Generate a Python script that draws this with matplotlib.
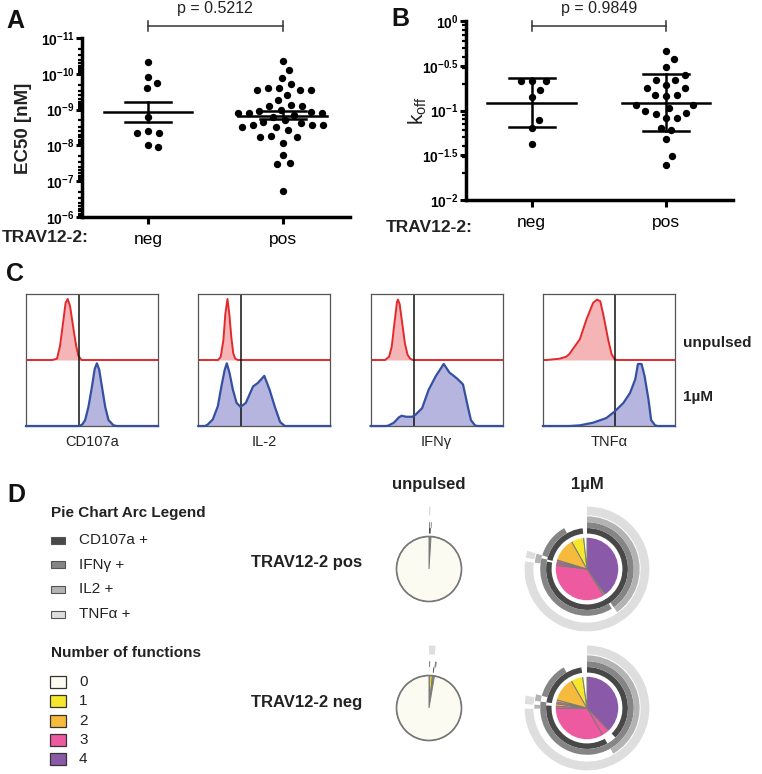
import numpy as np
import matplotlib
matplotlib.use('Agg')
import matplotlib.pyplot as plt
import matplotlib.transforms as mtransforms
from matplotlib.patches import Wedge, Circle, Rectangle
from matplotlib.ticker import LogLocator, NullFormatter

plt.rcParams['font.family'] = ['Liberation Sans', 'DejaVu Sans']
plt.rcParams['mathtext.fontset'] = 'custom'
plt.rcParams['mathtext.rm'] = 'Liberation Sans'
plt.rcParams['mathtext.bf'] = 'Liberation Sans:bold'
plt.rcParams['mathtext.it'] = 'Liberation Sans:italic'

# ---------------- data ----------------
# panel A: EC50 [nM], log10 values
ec50_neg_log = [-10.32, -9.91, -9.74, -9.60, -8.80, -8.36, -8.36, -8.40, -7.96, -8.01]
ec50_pos_log = [-10.35, -10.11, -9.88, -9.60, -9.55, -9.41, -9.55, -9.55, -9.60, -9.71,
                -9.27, -9.10, -9.13, -9.10, -8.96, -8.90, -8.90, -8.80, -8.85, -8.94,
                -8.90, -8.99, -8.62, -8.57, -8.66, -8.52, -8.43, -8.52, -8.57, -8.57,
                -8.71, -8.26, -8.24, -8.24, -8.07, -7.73, -7.52, -7.47, -6.72]
ec50_mean_log = [-8.94, -8.83]
ec50_sem_lo_log = [-9.22, -8.96]
ec50_sem_hi_log = [-8.66, -8.73]
ec50_ticks = [-11, -10, -9, -8, -7, -6]

# panel B: koff, log10 values
koff_neg_log = [-0.670, -0.670, -0.670, -0.771, -0.845, -1.106, -1.192, -1.378]
koff_pos_log = [-0.331, -0.428, -0.510, -0.603, -0.659, -0.659, -0.745, -0.752, -0.715,
                -0.827, -0.827, -0.834, -0.939, -0.939, -1.006, -0.976, -1.043, -1.032,
                -1.088, -1.088, -1.218, -1.199, -1.322, -1.508, -1.609]
koff_mean_log = [-0.912, -0.912]
koff_sd_lo_log = [-1.184, -1.229]
koff_sd_hi_log = [-0.633, -0.596]
koff_ticks = [-2, -1.5, -1, -0.5, 0]

groups = ['neg', 'pos']
p_a = 'p = 0.5212'
p_b = 'p = 0.9849'

# panel C: histograms (x = fraction of channel range, h = fraction of max)
markers = ['CD107a', 'IL-2', 'IFNγ', 'TNFα']
gates = [0.40, 0.32, 0.33, 0.545]
unp_x = [
    [0.20, 0.235, 0.258, 0.284, 0.30, 0.316, 0.334, 0.36, 0.38, 0.397, 0.42],
    [0.15, 0.17, 0.19, 0.205, 0.221, 0.235, 0.25, 0.265, 0.28, 0.30],
    [0.11, 0.14, 0.16, 0.18, 0.20, 0.207, 0.22, 0.24, 0.26, 0.28, 0.30, 0.32],
    [0.03, 0.127, 0.177, 0.20, 0.28, 0.33, 0.38, 0.41, 0.435, 0.46, 0.494, 0.52, 0.544, 0.56],
]
unp_h = [
    [0, 0.02, 0.215, 0.615, 0.865, 0.925, 0.815, 0.465, 0.215, 0.065, 0],
    [0, 0.05, 0.30, 0.70, 0.925, 0.70, 0.35, 0.10, 0.02, 0],
    [0, 0.05, 0.20, 0.55, 0.88, 0.915, 0.85, 0.55, 0.25, 0.08, 0.02, 0],
    [0, 0.02, 0.05, 0.09, 0.315, 0.615, 0.865, 0.915, 0.89, 0.665, 0.315, 0.09, 0.01, 0],
]
pul_x = [
    [0.40, 0.425, 0.448, 0.473, 0.50, 0.52, 0.537, 0.554, 0.575, 0.60, 0.625, 0.663, 0.69],
    [0.05, 0.07, 0.11, 0.148, 0.175, 0.20, 0.216, 0.237, 0.262, 0.29, 0.32, 0.36, 0.415,
     0.45, 0.50, 0.54, 0.58, 0.62, 0.656, 0.68],
    [0.12, 0.138, 0.176, 0.214, 0.235, 0.27, 0.316, 0.34, 0.39, 0.44, 0.495, 0.554, 0.597,
     0.63, 0.66, 0.70, 0.737, 0.76, 0.79, 0.81],
    [0.20, 0.28, 0.38, 0.48, 0.544, 0.61, 0.66, 0.70, 0.72, 0.747, 0.77, 0.80, 0.82, 0.85, 0.87],
]
pul_h = [
    [0, 0.02, 0.09, 0.29, 0.60, 0.86, 0.95, 0.86, 0.60, 0.29, 0.09, 0.01, 0],
    [0, 0.02, 0.10, 0.30, 0.60, 0.85, 0.95, 0.80, 0.55, 0.35, 0.29, 0.35, 0.60,
     0.65, 0.76, 0.55, 0.29, 0.06, 0.0, 0],
    [0, 0.01, 0.05, 0.13, 0.155, 0.14, 0.14, 0.17, 0.27, 0.55, 0.76, 0.94, 0.81,
     0.76, 0.71, 0.63, 0.29, 0.09, 0.01, 0],
    [0, 0.01, 0.05, 0.12, 0.22, 0.35, 0.50, 0.71, 0.94, 0.94, 0.76, 0.40, 0.09, 0.01, 0],
]

# panel D: SPICE slices (CD107a, IFNg, IL2, TNFa positivity, fraction)
arc_names = ['CD107a +', 'IFNγ +', 'IL2 +', 'TNFα +']
n_func = ['0', '1', '2', '3', '4']
pos_unp = [('++-+', 0.004), ('+---', 0.003), ('-+--', 0.003), ('----', 0.990)]
neg_unp = [('-+-+', 0.004), ('---+', 0.013), ('+---', 0.004), ('-+--', 0.006), ('----', 0.973)]
pos_1um = [('++++', 0.403), ('+--+', 0.008), ('++-+', 0.358), ('+++-', 0.010),
           ('-+++', 0.008), ('+-++', 0.010), ('++--', 0.122), ('+---', 0.064), ('----', 0.017)]
neg_1um = [('++++', 0.378), ('-+++', 0.039), ('++-+', 0.331), ('+++-', 0.012),
           ('-+-+', 0.012), ('+-++', 0.010), ('+-+-', 0.010), ('++--', 0.125),
           ('+---', 0.061), ('----', 0.022)]

func_colors = ['#fbfbf1', '#f6e72c', '#f6bb3c', '#ee5a9f', '#8a5aa8']
arc_colors = ['#484848', '#858585', '#b3b3b3', '#dedede']
rings = [(1.09, 1.26), (1.26, 1.44), (1.44, 1.62), (1.65, 1.92)]

# ---------------- layout helpers ----------------
W, H = 762, 774


def box(l, t, w, h):
    return [l / W, 1 - (t + h) / H, w / W, h / H]


def swarm(ypx, d):
    order = np.argsort(ypx)
    placed = []
    xs = np.zeros(len(ypx))
    for i in order:
        y = ypx[i]
        found = None
        k = 0
        while found is None:
            for s in ([0.0] if k == 0 else [k * 0.5, -k * 0.5]):
                if all((s - px) ** 2 + (y - py) ** 2 >= d * d for px, py in placed):
                    found = s
                    break
            k += 1
        xs[i] = found
        placed.append((found, y))
    return xs


fig = plt.figure(figsize=(W / 100, H / 100), dpi=100)
ov = fig.add_axes([0, 0, 1, 1])
ov.set_xlim(0, W)
ov.set_ylim(H, 0)
ov.axis('off')


def dotplot(ax, data_log, mean_log, lo_log, hi_log, px_dec, px_unit):
    for i, lv in enumerate(data_log):
        lv = np.array(lv)
        offs = swarm(lv * px_dec, 10.6) / px_unit
        ax.scatter(i + offs, 10 ** lv, s=28, color='k', linewidths=0, zorder=3, clip_on=False)
        m, lo, hi = 10 ** mean_log[i], 10 ** lo_log[i], 10 ** hi_log[i]
        ax.plot([i - 0.33, i + 0.33], [m, m], color='k', lw=1.8, zorder=4)
        ax.plot([i - 0.17, i + 0.17], [lo, lo], color='k', lw=1.8, zorder=4)
        ax.plot([i - 0.17, i + 0.17], [hi, hi], color='k', lw=1.8, zorder=4)
        ax.plot([i, i], [lo, hi], color='k', lw=1.8, zorder=4)
    ax.set_xlim(-0.49, 1.5)
    for s in ['top', 'right']:
        ax.spines[s].set_visible(False)
    for s in ['left', 'bottom']:
        ax.spines[s].set_linewidth(2.5)
    ax.yaxis.set_minor_locator(LogLocator(base=10, subs=np.arange(2, 10), numticks=30))
    ax.yaxis.set_minor_formatter(NullFormatter())
    ax.tick_params(axis='y', which='major', length=4.5, width=2.2, labelsize=10, pad=1)
    ax.tick_params(axis='y', which='minor', length=3, width=1.6)
    ax.tick_params(axis='x', length=5, width=2.2, labelsize=12.5, pad=6)
    ax.set_xticks([0, 1])
    ax.set_xticklabels(groups)


def bracket(ax, text):
    tr = mtransforms.blended_transform_factory(ax.transData, fig.transFigure)
    y, y0, y1 = 1 - 26 / H, 1 - 21 / H, 1 - 31 / H
    ax.plot([0, 1], [y, y], transform=tr, color='#333333', lw=1.1, clip_on=False)
    ax.plot([0, 0], [y0, y1], transform=tr, color='#333333', lw=1.1, clip_on=False)
    ax.plot([1, 1], [y0, y1], transform=tr, color='#333333', lw=1.1, clip_on=False)
    ax.text(0.5, 1 - 9 / H, text, transform=tr, ha='center', va='center', fontsize=11.5,
            color='#222222')


# ---------------- panel A ----------------
axA = fig.add_axes(box(82, 38, 268, 179))
axA.set_yscale('log')
dotplot(axA, [ec50_neg_log, ec50_pos_log], ec50_mean_log, ec50_sem_lo_log, ec50_sem_hi_log,
        179 / 5, 135)
axA.set_ylim(10.0 ** ec50_ticks[-1], 10.0 ** ec50_ticks[0])
axA.set_yticks([10.0 ** e for e in ec50_ticks])
axA.set_yticklabels([r'$\mathbf{10^{%d}}$' % e for e in ec50_ticks])
bracket(axA, p_a)

# ---------------- panel B ----------------
axB = fig.add_axes(box(466, 21, 267, 179))
axB.set_yscale('log')
dotplot(axB, [koff_neg_log, koff_pos_log], koff_mean_log, koff_sd_lo_log, koff_sd_hi_log,
        179 / 2, 134)
axB.set_ylim(10.0 ** koff_ticks[0], 10.0 ** koff_ticks[-1])
axB.set_yticks([10.0 ** e for e in koff_ticks])
axB.set_yticklabels([r'$\mathbf{10^{%s}}$' % ('%g' % e) for e in koff_ticks])
bracket(axB, p_b)

ov.text(24, 128, 'EC50 [nM]', rotation=90, ha='center', va='center', fontsize=13.5,
        fontweight='bold', color='#222222')
ov.text(418, 111, r'k$_{\mathrm{off}}$', rotation=90, ha='center', va='center', fontsize=15,
        color='#222222')
ov.text(2, 237, 'TRAV12-2:', ha='left', va='center', fontsize=12.5, fontweight='bold',
        color='#222222')
ov.text(386, 227, 'TRAV12-2:', ha='left', va='center', fontsize=12.5, fontweight='bold',
        color='#222222')
for lab, x, y in [('A', 15, 21), ('B', 400, 19), ('C', 15, 274), ('D', 16, 495)]:
    ov.text(x, y, lab, ha='center', va='center', fontsize=18, fontweight='bold', color='#111111')

# ---------------- panel C ----------------
red_line, red_fill = '#e22a2c', '#f5b4b6'
blue_line, blue_fill = '#3550a0', '#b5b5df'
for i, name in enumerate(markers):
    left = 26 + i * 172.3
    ax = fig.add_axes(box(left, 294, 132, 132))
    ax.set_xlim(0, 1)
    ax.set_ylim(0, 2)
    rx = np.concatenate([[0], unp_x[i], [1]])
    rh = np.concatenate([[0], unp_h[i], [0]])
    bx = np.concatenate([[0], pul_x[i], [1]])
    bh = np.concatenate([[0], pul_h[i], [0]])
    ax.fill_between(rx, 1, 1 + rh, color=red_fill, lw=0)
    ax.plot(rx, 1 + rh, color=red_line, lw=1.4)
    ax.fill_between(bx, 0, bh, color=blue_fill, lw=0)
    ax.plot(bx, bh, color=blue_line, lw=1.6, clip_on=False, zorder=5)
    ax.axvline(gates[i], color='#111111', lw=1.1)
    ax.set_xticks([])
    ax.set_yticks([])
    for s in ax.spines.values():
        s.set_color('#555555')
        s.set_linewidth(0.9)
    ov.text(left + 66, 442, name, ha='center', va='center', fontsize=10.5, color='#222222')
ov.text(683, 343, 'unpulsed', ha='left', va='center', fontsize=11, fontweight='bold',
        color='#222222')
ov.text(683, 397, '1µM', ha='left', va='center', fontsize=11, fontweight='bold',
        color='#222222')

# ---------------- panel D ----------------
ov.text(51, 513, 'Pie Chart Arc Legend', ha='left', va='center', fontsize=11,
        fontweight='bold', color='#222222')
for k, name in enumerate(arc_names):
    yc = 540 + k * 24.7
    ov.add_patch(Rectangle((51, yc - 3.5), 14, 7, facecolor=arc_colors[k], edgecolor='#555555',
                           lw=0.8))
    ov.text(79, yc, name, ha='left', va='center', fontsize=11, color='#222222')
ov.text(51, 653, 'Number of functions', ha='left', va='center', fontsize=11,
        fontweight='bold', color='#222222')
for k, name in enumerate(n_func):
    yc = 682 + k * 19.3
    ov.add_patch(Rectangle((50, yc - 6), 16, 12, facecolor=func_colors[k], edgecolor='#333333',
                           lw=0.9))
    ov.text(79, yc, name, ha='left', va='center', fontsize=11, color='#222222')

ov.text(251, 563, 'TRAV12-2 pos', ha='left', va='center', fontsize=12, fontweight='bold',
        color='#222222')
ov.text(251, 703, 'TRAV12-2 neg', ha='left', va='center', fontsize=12, fontweight='bold',
        color='#222222')
ov.text(429, 485, 'unpulsed', ha='center', va='center', fontsize=12, fontweight='bold',
        color='#222222')
ov.text(587, 485, '1µM', ha='center', va='center', fontsize=12, fontweight='bold',
        color='#222222')


def spice(cx, cy, slices, unpulsed):
    R = 32.5
    half = 66
    ax = fig.add_axes(box(cx - half, cy - half, 2 * half, 2 * half))
    L = half / R
    ax.set_xlim(-L, L)
    ax.set_ylim(-L, L)
    ax.set_aspect('equal')
    ax.axis('off')
    cum = 0.0
    spans = []
    for flags, frac in slices:
        t2 = 90 - cum * 360
        t1 = 90 - (cum + frac) * 360
        ax.add_patch(Wedge((0, 0), 1, t1, t2, facecolor=func_colors[flags.count('+')],
                           edgecolor='#7a7a7a', lw=0.7))
        spans.append((t1, t2, flags))
        cum += frac
    for m in range(4):
        r_in, r_out = rings[m]
        runs = []
        run = None
        for t1, t2, flags in spans:
            if flags[m] == '+':
                run = (t1, run[1]) if run else (t1, t2)
            elif run:
                runs.append(run)
                run = None
        if run:
            runs.append(run)
        for a, b in runs:
            ax.add_patch(Wedge((0, 0), r_out, a, b, width=r_out - r_in,
                               facecolor=arc_colors[m], edgecolor='none', lw=0))
    if unpulsed:
        ax.add_patch(Circle((0, 0), 1, fill=False, edgecolor='#777777', lw=1.2))
    else:
        ax.add_patch(Circle((0, 0), 1.0, fill=False, edgecolor='white', lw=1.8))


spice(429, 569, pos_unp, True)
spice(429, 708, neg_unp, True)
spice(587, 569, pos_1um, False)
spice(587, 708, neg_1um, False)

fig.savefig('out.png', dpi=100)
